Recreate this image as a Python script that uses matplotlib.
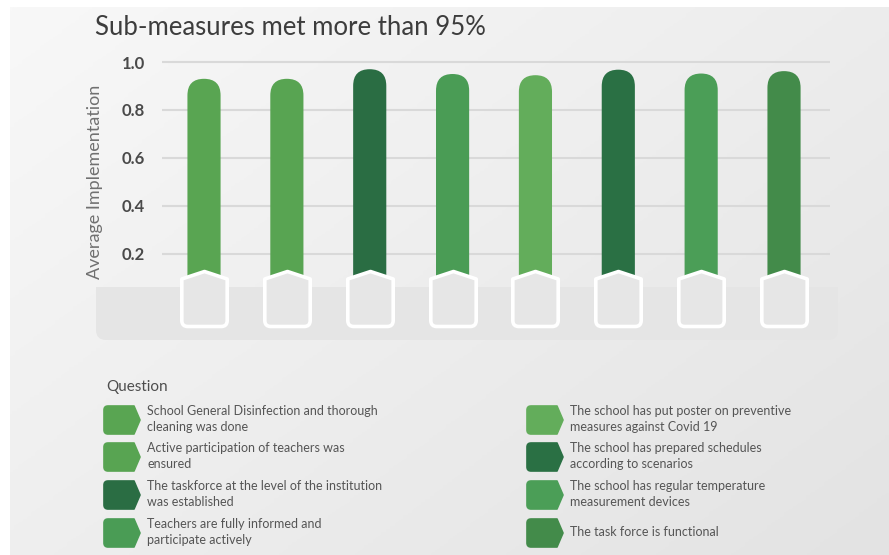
import numpy as np
import matplotlib
matplotlib.use("Agg")
import matplotlib.pyplot as plt
from matplotlib.patches import FancyBboxPatch, Rectangle, PathPatch
from matplotlib.path import Path
from matplotlib.markers import MarkerStyle

plt.rcParams["font.family"] = ["Lato", "DejaVu Sans"]

# data
questions = [
    "School General Disinfection and thorough\ncleaning was done",
    "Active participation of teachers was\nensured",
    "The taskforce at the level of the institution\nwas established",
    "Teachers are fully informed and\nparticipate actively",
    "The school has put poster on preventive\nmeasures against Covid 19",
    "The school has prepared schedules\naccording to scenarios",
    "The school has regular temperature\nmeasurement devices",
    "The task force is functional",
]
avg_impl = [0.93, 0.93, 0.97, 0.95, 0.945, 0.968, 0.952, 0.962]
colors = ["#59a552", "#58a452", "#2a6d43", "#4a9c55",
          "#63ad5b", "#2a7044", "#4b9e57", "#438b4a"]
yticks = [0.2, 0.4, 0.6, 0.8, 1.0]

W, H = 889, 555
fig = plt.figure(figsize=(W / 100, H / 100), dpi=100)
fig.patch.set_facecolor("white")

# backdrop axes in pixel units (y down)
bg = fig.add_axes([0, 0, 1, 1])
bg.set_xlim(0, W)
bg.set_ylim(H, 0)
bg.axis("off")

gx, gy = np.meshgrid(np.linspace(0, 1, 200), np.linspace(0, 1, 200))
grad = 0.55 * gx + 0.45 * gy
bg.imshow(grad, extent=[10, W, H, 7], cmap=matplotlib.colors.LinearSegmentedColormap.from_list(
    "panel", ["#f8f8f8", "#e3e3e3"]), vmin=0, vmax=1, aspect="auto", zorder=0)

# grey plinth under the bars
bg.add_patch(FancyBboxPatch((96, 287), 742, 53, boxstyle="round,pad=0,rounding_size=10",
                            fc="#e5e5e5", ec="none", zorder=1))
bg.add_patch(Rectangle((96, 287), 742, 20, fc="#e5e5e5", ec="none", zorder=1))

bg.text(95, 35, "Sub-measures met more than 95%", fontsize=18.5, color="#3d3d3d",
        va="baseline", ha="left")

# main chart axes
x0, x1 = 162, 830
ytop, ybot = 55, 340
ax = fig.add_axes([x0 / W, (H - ybot) / H, (x1 - x0) / W, (ybot - ytop) / H])
ax.patch.set_alpha(0)
ax.set_zorder(2)
ax.set_xlim(-0.507, 7.555)
ax.set_ylim((302 - ybot) / 240, (302 - ytop) / 240)
for s in ax.spines.values():
    s.set_visible(False)
ax.set_xticks([])
ax.set_yticks(yticks)
ax.set_yticklabels([f"{t:.1f}" for t in yticks], fontsize=12, fontweight="bold", color="#4a4a4a")
ax.tick_params(axis="y", length=0, pad=12)
ax.hlines(yticks, -0.507, 7.555, color="#d9d9d9", lw=1.5, zorder=0)
ax.set_ylabel("Average Implementation", fontsize=13, color="#707070")
ax.yaxis.set_label_coords(-0.088, 0.555)

xs = np.arange(len(avg_impl))
bars = ax.bar(xs, avg_impl, width=0.4, color=colors, zorder=2)

# rounded caps on the bars
fig.canvas.draw()
px = ax.transData.transform([(0, 0), (1, 1)])
aspect = (px[1, 0] - px[0, 0]) / (px[1, 1] - px[0, 1])
for b in bars:
    b.set_visible(False)
    ax.add_patch(FancyBboxPatch((b.get_x(), b.get_y()), b.get_width(), b.get_height(),
                                boxstyle=f"round,pad=0,rounding_size={b.get_width() / 2}",
                                mutation_aspect=aspect, fc=b.get_facecolor(), ec="none",
                                zorder=2))

# house-shaped markers at the bar feet
hw, top, sh, bot, r = 22.7, 31, 23.5, -24, 6
house = Path(
    [(0, top), (hw, sh), (hw, bot + r), (hw, bot), (hw - r, bot),
     (-hw + r, bot), (-hw, bot), (-hw, bot + r), (-hw, sh), (0, top)],
    [Path.MOVETO, Path.LINETO, Path.LINETO, Path.CURVE3, Path.CURVE3,
     Path.LINETO, Path.CURVE3, Path.CURVE3, Path.LINETO, Path.CLOSEPOLY])
ax.plot(xs, np.zeros(len(xs)), ls="none",
        marker=MarkerStyle(house, joinstyle="round"), markersize=2 * top * 0.72,
        markerfacecolor="#e6e6e6", markeredgecolor="white", markeredgewidth=2.6,
        clip_on=False, zorder=3)

# legend
bg.text(106, 391, "Question", fontsize=11, color="#4d4d4d", va="baseline")


def tag(xl, yt, color):
    w, h, tip, rr = 36, 28, 6, 4
    verts = [(xl + rr, yt), (xl + w - tip, yt), (xl + w, yt + h / 2), (xl + w - tip, yt + h),
             (xl + rr, yt + h), (xl, yt + h), (xl, yt + h - rr), (xl, yt + rr), (xl, yt),
             (xl + rr, yt)]
    codes = [Path.MOVETO, Path.LINETO, Path.LINETO, Path.LINETO, Path.LINETO,
             Path.CURVE3, Path.CURVE3, Path.LINETO, Path.CURVE3, Path.CURVE3]
    bg.add_patch(PathPatch(Path(verts, codes), fc=color, ec=color, lw=1.2,
                           joinstyle="round", zorder=2))


rows = [406, 443, 481, 519]
for i, (label, c) in enumerate(zip(questions, colors)):
    col, row = divmod(i, 4)
    xl = 104 if col == 0 else 527
    yt = rows[row]
    tag(xl, yt, c)
    bg.text(xl + 43, yt + 13, label, fontsize=9, color="#555555", va="center",
            ha="left", linespacing=1.4)

fig.savefig("out.png", dpi=100)
